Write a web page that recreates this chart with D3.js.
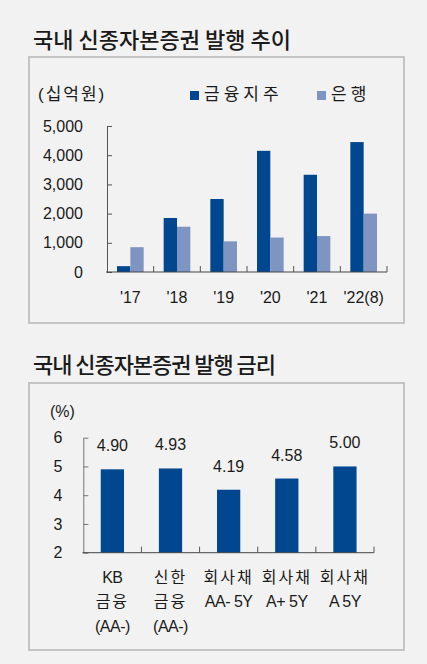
<!DOCTYPE html>
<html>
<head>
    <meta charset="utf-8">
    <style>
        body { margin: 0; background: #f2f2f2; }
        svg { display: block; }
        text { font-family: "Liberation Sans", "Noto Sans CJK KR", sans-serif; fill: #1a1a1a; }
        .title { font-family: "Noto Sans CJK KR", sans-serif; font-weight: 500; }
    </style>
</head>
<body>
    <svg width="427" height="664"></svg>
    <script src="https://d3js.org/d3.v7.min.js"></script>
    <script>
        // top chart: issuance (KRW bn)
        var years = ["'17", "'18", "'19", "'20", "'21", "'22(8)"];
        var seriesNames = ["금융지주", "은행"];
        var holdingValues = [200, 1850, 2500, 4150, 3330, 4450];
        var bankValues = [850, 1550, 1050, 1180, 1230, 2000];
        var yTicks1 = [0, 1000, 2000, 3000, 4000, 5000];

        // bottom chart: rates (%)
        var issuers = ["KB금융", "신한금융", "회사채AA-", "회사채A+", "회사채A"];
        var issuerLines = [["KB", "금융", "(AA-)"], ["신한", "금융", "(AA-)"], ["회사채", "AA- 5Y"], ["회사채", "A+ 5Y"], ["회사채", "A 5Y"]];
        var rates = [4.90, 4.93, 4.19, 4.58, 5.00];
        var yTicks2 = [2, 3, 4, 5, 6];

        var dark = "#00478f", light = "#7f95c1";
        var svg = d3.select("svg");

        function box(y, h) {
            svg.append("rect")
                .attr("x", 29).attr("y", y)
                .attr("width", 375).attr("height", h)
                .attr("fill", "none")
                .attr("stroke", "#c4c4c4")
                .attr("stroke-width", 2);
        }

        function styleAxis(g, col) {
            g.select(".domain").attr("stroke", col);
            g.selectAll(".tick line").attr("stroke", col);
            g.selectAll(".tick text").style("font-size", "16px").attr("fill", "#1a1a1a");
        }

        // ---------- chart 1 ----------
        svg.append("text").attr("class", "title")
            .attr("x", 33).attr("y", 48)
            .style("font-size", "22px")
            .attr("textLength", 258)
            .text("국내 신종자본증권 발행 추이");
        box(57, 266);

        var x0 = d3.scaleBand().domain(years).range([107, 387]);
        var x1 = d3.scaleBand().domain(seriesNames).range([0, x0.bandwidth()]).paddingOuter(0.75);
        var y1 = d3.scaleLinear().domain([0, 5000]).range([272, 126]);

        var rows = years.map(function (d, i) { return { year: d, values: [holdingValues[i], bankValues[i]] }; });

        svg.append("g").selectAll("g")
            .data(rows).enter().append("g")
            .attr("transform", function (d) { return "translate(" + x0(d.year) + ",0)"; })
            .selectAll("rect")
            .data(function (d) { return d.values.map(function (v, j) { return { key: seriesNames[j], v: v }; }); })
            .enter().append("rect")
            .attr("x", function (d) { return x1(d.key); })
            .attr("width", x1.bandwidth())
            .attr("y", function (d) { return y1(d.v); })
            .attr("height", function (d) { return y1(0) - y1(d.v); })
            .attr("fill", function (d, j) { return j == 0 ? dark : light; });

        var ay1 = svg.append("g")
            .attr("transform", "translate(107,0)")
            .call(d3.axisLeft(y1).tickValues(yTicks1).tickFormat(d3.format(",")).tickSizeInner(-5).tickSizeOuter(0).tickPadding(24));
        styleAxis(ay1, "#555");

        // x axis line + boundary ticks
        svg.append("line").attr("x1", 106).attr("x2", 387).attr("y1", 272).attr("y2", 272).attr("stroke", "#444");
        svg.append("g").selectAll("line").data(years).enter().append("line")
            .attr("x1", function (d) { return x0(d) + x0.bandwidth(); })
            .attr("x2", function (d) { return x0(d) + x0.bandwidth(); })
            .attr("y1", 272).attr("y2", 266).attr("stroke", "#555");
        svg.append("g").selectAll("text").data(years).enter().append("text")
            .attr("x", function (d) { return x0(d) + x0.bandwidth() / 2; })
            .attr("y", 303)
            .attr("text-anchor", "middle")
            .style("font-size", "16px")
            .text(function (d) { return d; });

        // unit + legend
        svg.append("text").attr("x", 38).attr("y", 100).style("font-size", "17px").style("letter-spacing", "2px").text("(십억원)");
        var legend = svg.append("g").selectAll("g").data(seriesNames).enter().append("g")
            .attr("transform", function (d, i) { return "translate(" + (i == 0 ? 190 : 317) + ",0)"; });
        legend.append("rect").attr("x", 0).attr("y", 91).attr("width", 9).attr("height", 9)
            .attr("fill", function (d, i) { return i == 0 ? dark : light; });
        legend.append("text").attr("x", 14).attr("y", 100)
            .style("font-size", "17px").style("letter-spacing", "4px")
            .text(function (d) { return d; });

        // ---------- chart 2 ----------
        svg.append("text").attr("class", "title")
            .attr("x", 33).attr("y", 373)
            .style("font-size", "22px")
            .attr("textLength", 243)
            .text("국내 신종자본증권 발행 금리");
        box(383, 267);

        var x2 = d3.scaleBand().domain(issuers).range([83.3, 374]).paddingInner(0.6).paddingOuter(0.3);
        var y2 = d3.scaleLinear().domain([2, 6]).range([552.7, 437.7]);

        svg.append("g").selectAll("rect")
            .data(rates).enter().append("rect")
            .attr("x", function (d, i) { return x2(issuers[i]); })
            .attr("width", x2.bandwidth())
            .attr("y", function (d) { return y2(d); })
            .attr("height", function (d) { return y2(2) - y2(d); })
            .attr("fill", dark);

        svg.append("g").selectAll("text")
            .data(rates).enter().append("text")
            .attr("x", function (d, i) { return x2(issuers[i]) + x2.bandwidth() / 2; })
            .attr("y", function (d) { return y2(d) - 18; })
            .attr("text-anchor", "middle")
            .style("font-size", "16px")
            .text(function (d) { return d.toFixed(2); });

        var ay2 = svg.append("g")
            .attr("transform", "translate(83.3,0)")
            .call(d3.axisLeft(y2).tickValues(yTicks2).tickFormat(d3.format("d")).tickSizeInner(-5).tickSizeOuter(0).tickPadding(21));
        styleAxis(ay2, "#777");

        var step2 = x2.step();
        svg.append("line").attr("x1", 82.5).attr("x2", 374).attr("y1", 552.7).attr("y2", 552.7).attr("stroke", "#444");
        svg.append("g").selectAll("line").data(issuers).enter().append("line")
            .attr("x1", function (d) { return x2(d) + x2.bandwidth() / 2 + step2 / 2; })
            .attr("x2", function (d) { return x2(d) + x2.bandwidth() / 2 + step2 / 2; })
            .attr("y1", 552.7).attr("y2", 546.7).attr("stroke", "#555");

        svg.append("text").attr("x", 50).attr("y", 417).style("font-size", "16px").text("(%)");

        svg.append("g").selectAll("text")
            .data(issuerLines).enter().append("text")
            .attr("text-anchor", "middle")
            .style("font-size", "16px")
            .each(function (lines, i) {
                var cx = x2(issuers[i]) + x2.bandwidth() / 2;
                d3.select(this).selectAll("tspan").data(lines).enter().append("tspan")
                    .attr("x", cx)
                    .attr("y", function (d, k) { return 583 + k * 24.3; })
                    .style("letter-spacing", function (d) { return /[가-힣]/.test(d) ? "2px" : "-0.5px"; })
                    .text(function (d) { return d; });
            });
    </script>
</body>
</html>
